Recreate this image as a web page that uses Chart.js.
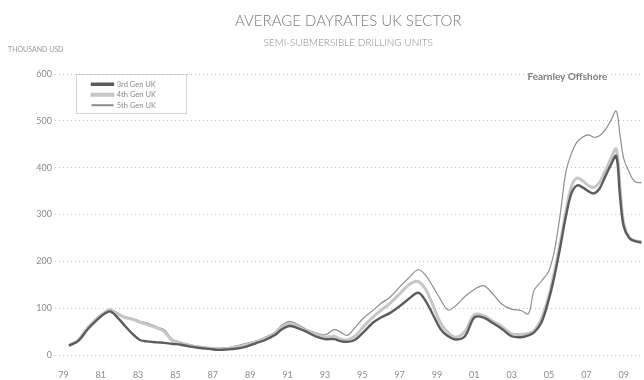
<!DOCTYPE html>
<html>
<head>
<meta charset="utf-8">
<script src="https://cdn.jsdelivr.net/npm/chart.js@4.4.1/dist/chart.umd.min.js"></script>
<style>
  html, body { margin: 0; padding: 0; background: #ffffff; overflow: hidden; }
  #wrap { width: 644px; height: 380px; position: relative; }
</style>
</head>
<body>
<div id="wrap"><canvas id="c"></canvas></div>
<script>
// Time axis (decimal years) shared by the three series
const years = [
  1979.3, 1979.8, 1980.3, 1980.8, 1981.2, 1981.5, 1981.9, 1982.3, 1982.7, 1983.1,
  1983.5, 1984.0, 1984.4, 1984.8, 1985.3, 1985.8, 1986.3, 1986.8, 1987.3, 1987.8,
  1988.3, 1988.8, 1989.3, 1989.8, 1990.3, 1990.7, 1991.1, 1991.5, 1992.0, 1992.5,
  1993.0, 1993.5, 1993.8, 1994.2, 1994.6, 1995.1, 1995.6, 1996.0, 1996.5, 1997.0,
  1997.5, 1998.0, 1998.4, 1998.8, 1999.2, 1999.6, 2000.0, 2000.5, 2001.0, 2001.5,
  2002.0, 2002.5, 2003.0, 2003.5, 2003.9, 2004.2, 2004.6, 2005.0, 2005.3, 2005.6,
  2005.9, 2006.2, 2006.5, 2006.8, 2007.1, 2007.4, 2007.7, 2008.0, 2008.3, 2008.6,
  2008.8, 2009.0, 2009.3, 2009.6, 2010.0
];

// Average dayrates, thousand USD
const gen3 = [
  20, 30, 55, 75, 88, 93, 80, 62, 45, 32,
  29, 27, 26, 24, 22, 18, 15, 13, 11, 12,
  14, 18, 25, 32, 42, 55, 62, 58, 50, 40,
  34, 34, 30, 28, 32, 50, 70, 80, 90, 104,
  120, 133, 115, 85, 55, 40, 33, 40, 80, 80,
  68, 55, 40, 38, 42, 48, 70, 120, 170, 230,
  295, 345, 362, 358, 350, 345, 355, 380, 405, 425,
  340, 275, 250, 243, 240
];
const gen4 = [
  20, 32, 58, 78, 90, 96, 88, 80, 76, 70,
  65, 58, 50, 32, 25, 20, 17, 15, 13, 14,
  17, 22, 28, 35, 45, 60, 68, 62, 52, 45,
  38, 40, 35, 32, 40, 62, 82, 95, 111, 130,
  150, 157, 140, 105, 68, 48, 38, 50, 86, 84,
  72, 60, 45, 44, 46, 52, 78, 128, 180, 240,
  305, 360, 378, 372, 362, 358, 368, 392, 418, 440,
  360, 280, 250, 244, 242
];
const gen5 = [
  22, 33, 58, 80, 92, 98, 90, 82, 78, 72,
  68, 60, 54, 35, 27, 22, 18, 16, 15, 16,
  20, 25, 30, 38, 48, 64, 72, 66, 55, 48,
  43, 54, 50, 42, 58, 80, 96, 110, 124, 145,
  165, 182, 170, 145, 118, 96, 105, 125, 140, 148,
  130, 108, 98, 95, 88, 138, 158, 180, 225, 300,
  390, 430, 455, 465, 470, 465, 468, 480, 500, 521,
  470, 420, 390, 370, 368
];

const seriesNames = ['3rd Gen UK', '4th Gen UK', '5th Gen UK'];
const tickYears = [1979, 1981, 1983, 1985, 1987, 1989, 1991, 1993, 1995, 1997, 1999, 2001, 2003, 2005, 2007, 2009];
const tickLabels = ['79', '81', '83', '85', '87', '89', '91', '93', '95', '97', '99', '01', '03', '05', '07', '09'];
const yTicks = [0, 100, 200, 300, 400, 500, 600];

const pts = vals => years.map((x, i) => ({ x: x, y: vals[i] }));

const FONT = "'Lato', 'Open Sans', 'DejaVu Sans', sans-serif";
const LEGEND_PAD = 3;
const LEGEND_ROW = 7 + LEGEND_PAD;

// Legend sits inside the plot near the top-left corner, framed by a dotted box
const legendFrame = {
  id: 'legendFrame',
  afterLayout(chart) {
    const lg = chart.legend;
    if (!lg) return;
    const ca = chart.chartArea;
    const dx = (ca.left + 34) - lg.left;
    const dy = (ca.top + 3.5) - lg.top;
    lg.left += dx; lg.right += dx; lg.top += dy; lg.bottom += dy;
    (lg.legendHitBoxes || []).forEach(h => { h.left += dx; h.top += dy; });
  },
  afterDraw(chart) {
    const lg = chart.legend;
    const ca = chart.chartArea;
    const ctx = chart.ctx;
    if (lg) {
      const colW = (lg.columnSizes && lg.columnSizes[0]) ? lg.columnSizes[0].width : 60;
      const l = lg.left + LEGEND_PAD - 16;
      const r = lg.left + LEGEND_PAD + colW + 30;
      const t = ca.top;
      const b = lg.top + LEGEND_PAD + LEGEND_ROW * seriesNames.length + 2;
      ctx.save();
      ctx.strokeStyle = '#a8a8a8';
      ctx.lineWidth = 1;
      ctx.setLineDash([1, 1]);
      ctx.strokeRect(Math.round(l) + 0.5, Math.round(t) + 0.5, Math.round(r - l), Math.round(b - t));
      ctx.restore();
    }
    // unit caption and source credit
    ctx.save();
    ctx.fillStyle = '#9a9a9a';
    ctx.font = "7px " + FONT;
    ctx.textBaseline = 'middle';
    ctx.textAlign = 'left';
    ctx.fillText('THOUSAND USD', 8, 50);
    ctx.fillStyle = '#7c7c7c';
    ctx.font = "bold 10px " + FONT;
    ctx.fillText('Fearnley Offshore', ca.right - 114, ca.top + 3);
    ctx.restore();
  }
};

new Chart(document.getElementById('c'), {
  type: 'line',
  data: {
    datasets: [
      { label: seriesNames[0], data: pts(gen3), borderColor: '#5c5c5c', backgroundColor: '#5c5c5c', borderWidth: 2.4 },
      { label: seriesNames[1], data: pts(gen4), borderColor: '#c6c6c6', backgroundColor: '#c6c6c6', borderWidth: 3 },
      { label: seriesNames[2], data: pts(gen5), borderColor: '#8e8e8e', backgroundColor: '#8e8e8e', borderWidth: 1.2 }
    ]
  },
  options: {
    responsive: true,
    maintainAspectRatio: false,
    animation: false,
    elements: { point: { radius: 0 }, line: { tension: 0.35 } },
    layout: { padding: { left: 0, right: 0, top: 0, bottom: 0 } },
    plugins: {
      title: {
        display: true,
        text: 'AVERAGE DAYRATES UK SECTOR',
        color: '#7a7a7a',
        fullSize: false,
        font: { family: FONT, size: 15, weight: '300' },
        padding: { top: 12, bottom: 7 }
      },
      subtitle: {
        display: true,
        text: 'SEMI-SUBMERSIBLE DRILLING UNITS',
        color: '#8a8a8a',
        fullSize: false,
        font: { family: FONT, size: 10, weight: '300' },
        padding: { top: 0, bottom: 25 }
      },
      legend: {
        display: true,
        position: 'chartArea',
        align: 'start',
        labels: {
          boxWidth: 21,
          boxHeight: 1,
          padding: LEGEND_PAD,
          color: '#8a8a8a',
          font: { family: FONT, size: 7.5 }
        }
      },
      tooltip: { enabled: false }
    },
    scales: {
      x: {
        type: 'linear',
        min: 1978.55,
        max: 2009.95,
        afterFit(scale) { scale.height = 25; },
        afterBuildTicks(scale) { scale.ticks = tickYears.map(v => ({ value: v })); },
        grid: { display: false, drawTicks: false },
        border: { display: false },
        ticks: {
          padding: 15,
          color: '#8a8a8a',
          font: { family: FONT, size: 9 },
          maxRotation: 0,
          autoSkip: false,
          callback: (v, i) => tickLabels[i]
        }
      },
      y: {
        min: 0,
        max: 600,
        afterFit(scale) { scale.width = 55; },
        afterBuildTicks(scale) { scale.ticks = yTicks.map(v => ({ value: v })); },
        grid: { color: '#c4c4c4', lineWidth: 1, drawTicks: false },
        border: { display: false, dash: [1, 3] },
        ticks: {
          padding: 3,
          color: '#8a8a8a',
          font: { family: FONT, size: 9 },
          callback: v => String(v)
        }
      }
    }
  },
  plugins: [legendFrame]
});
</script>
</body>
</html>
